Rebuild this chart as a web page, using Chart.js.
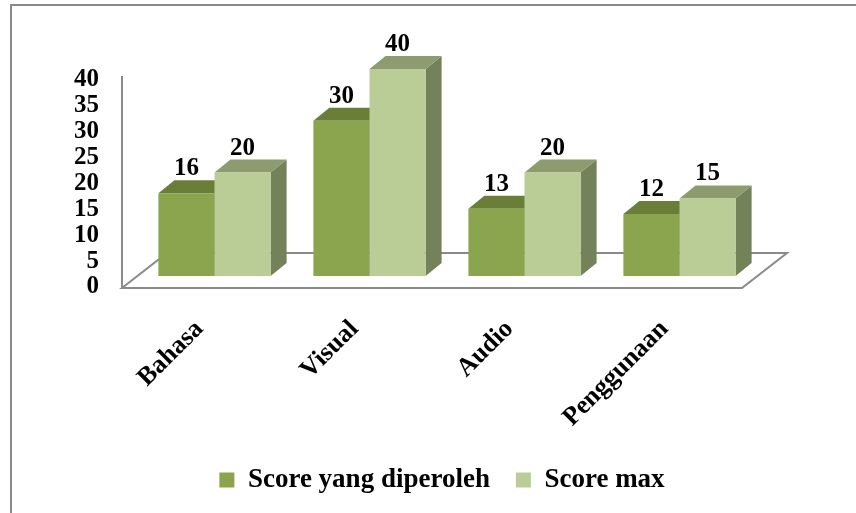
<!DOCTYPE html>
<html><head><meta charset="utf-8">
<script src="https://cdn.jsdelivr.net/npm/chart.js@4/dist/chart.umd.min.js"></script>
<style>html,body{margin:0;padding:0;background:#fff;} canvas{display:block;}</style>
</head><body>
<canvas id="c" width="856" height="513"></canvas>
<script>
const categories = ['Bahasa', 'Visual', 'Audio', 'Penggunaan'];
const seriesNames = ['Score yang diperoleh', 'Score max'];
const scoreObtained = [16, 30, 13, 12];
const scoreMax = [20, 40, 20, 15];
const yTicks = [0, 5, 10, 15, 20, 25, 30, 35, 40];

const FONT = "'Liberation Serif', 'Times New Roman', serif";
const GRAY = '#8a8a8a';
const depth = {dx: 16, dy: -13};
const shift = {dx: 15, dy: -11};
const floorDepth = {dx: 45, dy: -35};
const faceColors = [
  {front: '#8AA54E', top: '#6A7E38', side: '#5E7131'},
  {front: '#BBCD96', top: '#8D9C6F', side: '#748259'}
];

const bar3d = {
  id: 'bar3d',
  beforeDraw(chart) {
    const ctx = chart.ctx;
    ctx.save();
    ctx.strokeStyle = GRAY;
    ctx.lineWidth = 2;
    ctx.beginPath();
    ctx.moveTo(11, 513); ctx.lineTo(11, 5); ctx.lineTo(856, 5);
    ctx.stroke();
    ctx.restore();
  },
  beforeDatasetsDraw(chart) {
    const {ctx, chartArea: a} = chart;
    ctx.save();
    ctx.beginPath();
    ctx.moveTo(a.left, a.bottom + 1);
    ctx.lineTo(a.right, a.bottom + 1);
    ctx.lineTo(a.right + floorDepth.dx, a.bottom + 1 + floorDepth.dy);
    ctx.lineTo(a.left + floorDepth.dx, a.bottom + 1 + floorDepth.dy);
    ctx.closePath();
    ctx.fillStyle = '#fff';
    ctx.fill();
    ctx.strokeStyle = GRAY;
    ctx.lineWidth = 2;
    ctx.stroke();
    ctx.beginPath();
    ctx.moveTo(a.left, a.bottom);
    ctx.lineTo(a.left, a.top - 4);
    ctx.stroke();
    ctx.restore();

    ctx.save();
    ctx.translate(shift.dx, shift.dy);
    const n = chart.data.labels.length;
    for (let i = 0; i < n; i++) {
      chart.data.datasets.forEach((ds, di) => {
        const el = chart.getDatasetMeta(di).data[i];
        const p = el.getProps(['x', 'y', 'base', 'width'], true);
        const x1 = p.x - p.width / 2, x2 = p.x + p.width / 2;
        ctx.fillStyle = faceColors[di].side;
        ctx.beginPath();
        ctx.moveTo(x2, p.y);
        ctx.lineTo(x2 + depth.dx, p.y + depth.dy);
        ctx.lineTo(x2 + depth.dx, p.base + depth.dy);
        ctx.lineTo(x2, p.base);
        ctx.closePath();
        ctx.fill();
        ctx.fillStyle = faceColors[di].top;
        ctx.beginPath();
        ctx.moveTo(x1, p.y);
        ctx.lineTo(x2, p.y);
        ctx.lineTo(x2 + depth.dx, p.y + depth.dy);
        ctx.lineTo(x1 + depth.dx, p.y + depth.dy);
        ctx.closePath();
        ctx.fill();
      });
    }
  },
  afterDatasetsDraw(chart) {
    const ctx = chart.ctx;
    ctx.font = 'bold 25px ' + FONT;
    ctx.fillStyle = '#000';
    ctx.textAlign = 'center';
    ctx.textBaseline = 'alphabetic';
    chart.data.datasets.forEach((ds, di) => {
      chart.getDatasetMeta(di).data.forEach((el, i) => {
        const p = el.getProps(['x', 'y'], true);
        ctx.fillText(String(ds.data[i]), p.x, p.y + depth.dy - 5);
      });
    });
    ctx.restore();
  }
};

new Chart(document.getElementById('c'), {
  type: 'bar',
  data: {
    labels: categories,
    datasets: [
      {label: seriesNames[0], data: scoreObtained, backgroundColor: faceColors[0].front, borderWidth: 0, clip: false},
      {label: seriesNames[1], data: scoreMax, backgroundColor: faceColors[1].front, borderWidth: 0, clip: false}
    ]
  },
  options: {
    responsive: false,
    devicePixelRatio: 1,
    animation: false,
    events: [],
    layout: {padding: {left: 28, right: 0, top: 80, bottom: 9.5}},
    datasets: {bar: {categoryPercentage: 0.724, barPercentage: 1}},
    font: {family: FONT, size: 25, weight: 'bold'},
    color: '#000',
    plugins: {
      tooltip: {enabled: false},
      legend: {
        position: 'bottom',
        labels: {
          font: {family: FONT, size: 27, weight: 'bold'},
          color: '#000',
          boxWidth: 15, boxHeight: 15, padding: 26
        }
      }
    },
    scales: {
      x: {
        grid: {display: false, drawTicks: false},
        border: {display: false},
        ticks: {
          autoSkip: false, minRotation: 45, maxRotation: 45, padding: 27,
          font: {family: FONT, size: 26, weight: 'bold'}, color: '#000'
        },
        afterFit(s) { s.height = 153.5; }
      },
      y: {
        min: 0, max: 40,
        grid: {display: false, drawTicks: false},
        border: {display: false},
        ticks: {
          autoSkip: false, padding: 23,
          font: {family: FONT, size: 25, weight: 'bold'}, color: '#000'
        },
        afterBuildTicks(s) { s.ticks = yTicks.map(v => ({value: v})); },
        afterFit(s) { s.width = 94; }
      },
      y2: {
        position: 'right', min: 0, max: 1,
        grid: {display: false, drawTicks: false},
        border: {display: false},
        ticks: {display: false},
        afterFit(s) { s.width = 114; }
      }
    }
  },
  plugins: [bar3d]
});
</script>
</body></html>
